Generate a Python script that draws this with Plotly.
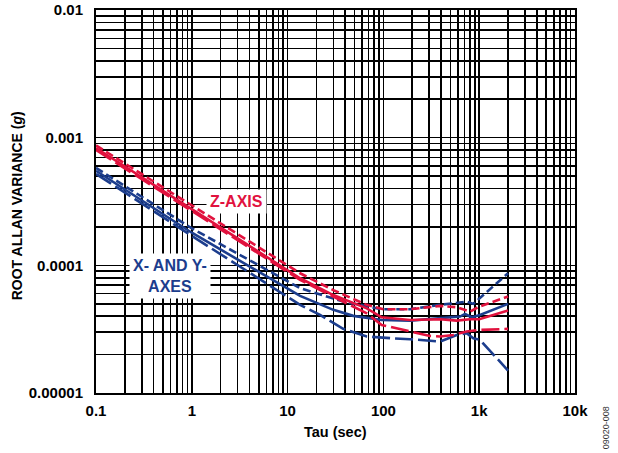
import plotly.graph_objects as go

# ---- data ----
z_short_tau = [0.1, 1, 10, 13.5, 30, 67, 100, 190, 390, 580, 800, 1000, 2000]
z_short_val = [8.7e-4, 2.95e-4, 1.0e-4, 8.67e-5, 6.4e-5, 4.9e-5, 4.53e-5, 4.53e-5, 4.81e-5, 4.70e-5, 4.34e-5, 4.75e-5, 5.69e-5]

z_solid_tau = [0.1, 1, 13.5, 30, 67, 96, 190, 390, 580, 800, 1000, 2000]
z_solid_val = [8.3e-4, 2.75e-4, 7.92e-5, 5.85e-5, 4.6e-5, 3.92e-5, 3.73e-5, 3.78e-5, 3.69e-5, 3.78e-5, 3.78e-5, 4.42e-5]

z_long_tau = [0.1, 1, 13.5, 30, 67, 96, 190, 306, 390, 537, 740, 1000, 2000]
z_long_val = [8.0e-4, 2.65e-4, 7.69e-5, 5.69e-5, 4.21e-5, 3.41e-5, 3.03e-5, 2.80e-5, 2.77e-5, 2.85e-5, 3.03e-5, 3.12e-5, 3.18e-5]

xy_short_tau = [0.1, 1, 13.5, 38, 96, 190, 390, 740, 868, 2000]
xy_short_val = [5.8e-4, 1.95e-4, 6.62e-5, 5.2e-5, 4.53e-5, 4.53e-5, 4.9e-5, 5.2e-5, 4.99e-5, 8.67e-5]

xy_solid_tau = [0.1, 1, 13.5, 30, 48.5, 96, 190, 390, 631, 711, 835, 1019, 2000]
xy_solid_val = [5.5e-4, 1.8e-4, 5.76e-5, 4.48e-5, 4.02e-5, 3.73e-5, 3.69e-5, 3.85e-5, 3.97e-5, 4.16e-5, 3.92e-5, 4.09e-5, 4.99e-5]

xy_long_tau = [0.1, 1, 13.5, 21.8, 38, 67, 127, 190, 390, 582, 740, 868, 1019, 2000]
xy_long_val = [5.2e-4, 1.7e-4, 4.9e-5, 4.09e-5, 3.18e-5, 2.77e-5, 2.68e-5, 2.64e-5, 2.53e-5, 2.85e-5, 2.94e-5, 2.68e-5, 2.61e-5, 1.5e-5]

x_tickvals = [0.1, 1, 10, 100, 1000, 10000]
x_ticktext = ["0.1", "1", "10", "100", "1k", "10k"]
y_tickvals = [1e-5, 1e-4, 1e-3, 1e-2]
y_ticktext = ["0.00001", "0.0001", "0.001", "0.01"]

RED = "#E1123E"
BLUE = "#1C3D8D"
SHORT = "8px,4px"
LONG = "18px,5px"

series = [
    (xy_short_tau, xy_short_val, BLUE, SHORT),
    (xy_solid_tau, xy_solid_val, BLUE, "solid"),
    (xy_long_tau, xy_long_val, BLUE, LONG),
    (z_short_tau, z_short_val, RED, SHORT),
    (z_solid_tau, z_solid_val, RED, "solid"),
    (z_long_tau, z_long_val, RED, LONG),
]

fig = go.Figure()
for t, v, c, d in series:
    fig.add_trace(go.Scatter(x=t, y=v, mode="lines",
                             line=dict(color=c, width=2.6, dash=d),
                             showlegend=False, hoverinfo="skip"))

x_minor = [m * 10 ** e for e in range(-1, 4) for m in range(2, 10)]
y_minor = [m * 10 ** e for e in range(-5, -2) for m in range(2, 10)]

FONT = "Liberation Sans, Arial, sans-serif"

fig.update_xaxes(type="log", range=[-1, 4], tickvals=x_tickvals, ticktext=x_ticktext,
                 showgrid=True, gridcolor="black", gridwidth=1.6,
                 minor=dict(tickvals=x_minor, showgrid=True, gridcolor="black", gridwidth=1.6, ticks=""),
                 showline=True, linecolor="black", linewidth=2, mirror=True,
                 ticks="", zeroline=False, automargin=False, ticklabelstandoff=3,
                 ticklabeloverflow="allow",
                 tickfont=dict(family=FONT, size=15, color="black", weight="bold"))
fig.update_yaxes(type="log", range=[-5, -2], tickvals=y_tickvals, ticktext=y_ticktext,
                 showgrid=True, gridcolor="black", gridwidth=1.6,
                 minor=dict(tickvals=y_minor, showgrid=True, gridcolor="black", gridwidth=1.6, ticks=""),
                 showline=True, linecolor="black", linewidth=2, mirror=True,
                 ticks="", zeroline=False, automargin=False, ticklabelstandoff=8,
                 ticklabeloverflow="allow",
                 tickfont=dict(family=FONT, size=15, color="black", weight="bold"))

fig.add_annotation(x=0.467, y=-3.50, xref="x", yref="y", text="Z-AXIS", showarrow=False,
                   font=dict(family=FONT, size=16, color=RED, weight="bold"),
                   bgcolor="white", borderpad=3)
fig.add_annotation(x=-0.228, y=-4.087, xref="x", yref="y", text="X- AND Y-<br>AXES", showarrow=False,
                   font=dict(family=FONT, size=16, color=BLUE, weight="bold"),
                   bgcolor="white", borderpad=3)

# axis titles
fig.add_annotation(x=-0.165, y=0.49, xref="paper", yref="paper", text="ROOT ALLAN VARIANCE (<i>g</i>)",
                   textangle=-90, showarrow=False, xanchor="center", yanchor="middle",
                   font=dict(family=FONT, size=14, color="black", weight="bold"))
fig.add_annotation(x=0.5, y=-0.102, xref="paper", yref="paper", text="Tau (sec)",
                   showarrow=False, xanchor="center", yanchor="middle",
                   font=dict(family=FONT, size=14.5, color="black", weight="bold"))
fig.add_annotation(x=1.065, y=-0.092, xref="paper", yref="paper", text="09020-008",
                   textangle=-90, showarrow=False, xanchor="center", yanchor="middle",
                   font=dict(family=FONT, size=9, color="#333333"))

fig.update_layout(width=618, height=453, margin=dict(l=96, r=43, t=10, b=60),
                  plot_bgcolor="white", paper_bgcolor="white", hovermode=False)

# remove the default page body margin so the figure sits at the window's top-left
fig.write_html("out.html", config={"displayModeBar": False, "staticPlot": True},
               post_script="document.body.style.margin='0';")
